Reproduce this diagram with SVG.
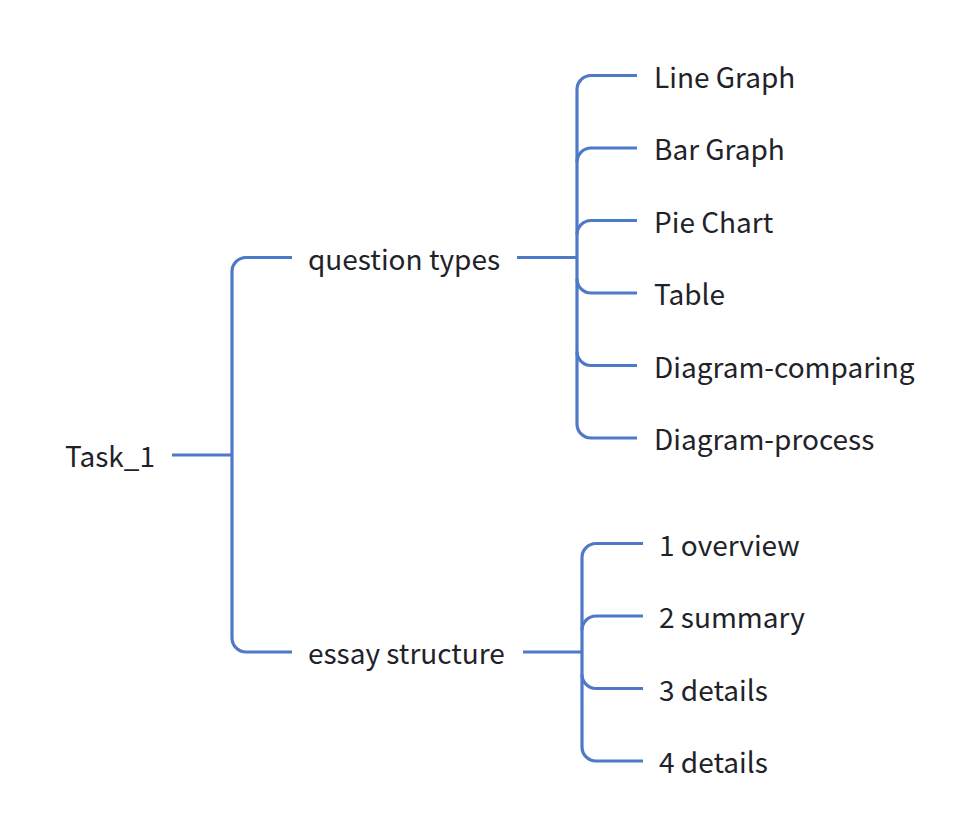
<svg xmlns="http://www.w3.org/2000/svg" width="980" height="838" viewBox="0 0 980 838">
<style>
.t{font-family:"Noto Sans CJK SC","Noto Sans",sans-serif;font-size:28px;fill:#1f2329}
.c{fill:none;stroke:#4e78c8;stroke-width:3.2;stroke-linecap:butt}
</style>
<rect width="980" height="838" fill="#fff"/>
<g id="connectors">
<path class="c" d="M172 455H232"/>
<path class="c" d="M292 257.5H246A14 14 0 0 0 232 271.5V638A14 14 0 0 0 246 652H292"/>
<path class="c" d="M517 257.5H577"/>
<path class="c" d="M637 75.5H591A14 14 0 0 0 577 89.5V424A14 14 0 0 0 591 438H637"/>
<path class="c" d="M637 148H591A14 14 0 0 0 577 162"/>
<path class="c" d="M637 220.5H591A14 14 0 0 0 577 234.5"/>
<path class="c" d="M637 293H591A14 14 0 0 1 577 279"/>
<path class="c" d="M637 365.5H591A14 14 0 0 1 577 351.5"/>
<path class="c" d="M523 652H582"/>
<path class="c" d="M643 543.5H596A14 14 0 0 0 582 557.5V747A14 14 0 0 0 596 761H643"/>
<path class="c" d="M643 616H596A14 14 0 0 0 582 630"/>
<path class="c" d="M643 688.5H596A14 14 0 0 1 582 674.5"/>
</g>
<g id="root"><text class="t" x="65" y="467">Task_1</text></g>
<g id="qt"><text class="t" x="308" y="269.5">question types</text></g>
<g id="es"><text class="t" x="308" y="664">essay structure</text></g>
<g id="n1"><text class="t" x="654" y="87.5">Line Graph</text></g>
<g id="n2"><text class="t" x="654" y="160">Bar Graph</text></g>
<g id="n3"><text class="t" x="654" y="232.5">Pie Chart</text></g>
<g id="n4"><text class="t" x="654" y="305">Table</text></g>
<g id="n5"><text class="t" x="654" y="377.5">Diagram-comparing</text></g>
<g id="n6"><text class="t" x="654" y="450">Diagram-process</text></g>
<g id="e1"><text class="t" x="659" y="555.5">1 overview</text></g>
<g id="e2"><text class="t" x="659" y="628">2 summary</text></g>
<g id="e3"><text class="t" x="659" y="700.5">3 details</text></g>
<g id="e4"><text class="t" x="659" y="773">4 details</text></g>
</svg>
